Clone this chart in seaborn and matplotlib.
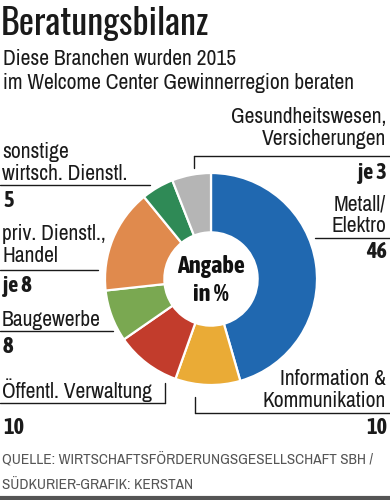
import matplotlib
matplotlib.use("Agg")
import matplotlib.pyplot as plt
import seaborn as sns

sns.set_theme(style="white")
BODY = ["Archivo Narrow", "Roboto Condensed", "Barlow Condensed", "DejaVu Sans"]
TITLE = ["Oswald", "Roboto Condensed", "Barlow Condensed", "DejaVu Sans"]
BOLD = ["Asap Condensed", "Barlow Condensed", "Roboto Condensed", "DejaVu Sans"]
plt.rcParams['font.family'] = BODY

# Data
categories = ["Metall/Elektro", "Information & Kommunikation", "Öffentl. Verwaltung",
              "Baugewerbe", "priv. Dienstl., Handel", "sonstige wirtsch. Dienstl.",
              "Gesundheitswesen, Versicherungen"]
values = [46, 10, 10, 8, 16, 5, 6]
value_labels = ["46", "10", "10", "8", "je 8", "5", "je 3"]
colors = ["#2068b0", "#eaab36", "#c23c2c", "#7aa851", "#e08a4d", "#2f8a56", "#b5b5b5"]

W, H = 390, 500
fig = plt.figure(figsize=(W / 100, H / 100), dpi=100)
fig.patch.set_facecolor("white")

# donut
cx, cy, R = 211, 279, 106
pax = fig.add_axes([(cx - R) / W, (H - cy - R) / H, 2 * R / W, 2 * R / H])
pax.pie(values, colors=colors, startangle=90, counterclock=False, radius=1,
        wedgeprops=dict(width=0.56, edgecolor="white", linewidth=1.6))
pax.set_xlim(-1, 1)
pax.set_ylim(-1, 1)
pax.set_aspect("equal")
pax.axis("off")
pax.text(0, 0.12, "Angabe", ha="center", va="center", fontsize=17.5, fontweight="bold",
         color="#111", family=BOLD)
pax.text(0, -0.15, "in %", ha="center", va="center", fontsize=17.5, fontweight="bold",
         color="#111", family=BOLD)

# overlay in pixel coordinates
ax = fig.add_axes([0, 0, 1, 1], facecolor="none")
ax.set_xlim(0, W)
ax.set_ylim(H, 0)
ax.axis("off")

tc = "#1a1a1a"
ax.text(1, 35, "Beratungsbilanz", fontsize=26, fontweight="bold", color=tc, va="baseline",
        ha="left", family=TITLE)
ax.text(3, 65, "Diese Branchen wurden 2015", fontsize=15.5, color=tc, va="baseline")
ax.text(3, 89, "im Welcome Center Gewinnerregion beraten", fontsize=15.5, color=tc, va="baseline")

lab = 15.5
num = 16
lw = 1.0


def number(x, y, s, ha):
    ax.text(x, y, s, fontsize=num, fontweight="bold", ha=ha, va="baseline", color=tc, family=BOLD)


# right labels
ax.text(386, 123, "Gesundheitswesen,", fontsize=lab, ha="right", va="baseline", color=tc)
ax.text(386, 145, "Versicherungen", fontsize=lab, ha="right", va="baseline", color=tc)
ax.plot([194, 390], [156, 156], color=tc, lw=lw)
ax.plot([194, 194], [156, 168], color=tc, lw=lw)
number(387, 179, value_labels[6], "right")

ax.text(386, 210, "Metall/", fontsize=lab, ha="right", va="baseline", color=tc)
ax.text(386, 232, "Elektro", fontsize=lab, ha="right", va="baseline", color=tc)
ax.plot([315, 390], [238, 238], color=tc, lw=lw)
number(387, 258, value_labels[0], "right")

ax.text(386, 385, "Information &", fontsize=lab, ha="right", va="baseline", color=tc)
ax.text(386, 407, "Kommunikation", fontsize=lab, ha="right", va="baseline", color=tc)
ax.plot([195, 390], [413, 413], color=tc, lw=lw)
ax.plot([195, 195], [397, 413], color=tc, lw=lw)
number(387, 434, value_labels[1], "right")

# left labels
ax.text(2, 158, "sonstige", fontsize=lab, ha="left", va="baseline", color=tc)
ax.text(2, 180, "wirtsch. Dienstl.", fontsize=lab, ha="left", va="baseline", color=tc)
ax.plot([0, 150], [185, 185], color=tc, lw=lw)
number(3, 207, value_labels[5], "left")

ax.text(2, 240, "priv. Dienstl.,", fontsize=lab, ha="left", va="baseline", color=tc)
ax.text(2, 262, "Handel", fontsize=lab, ha="left", va="baseline", color=tc)
ax.plot([0, 98], [270, 270], color=tc, lw=lw)
number(3, 292, value_labels[4], "left")

ax.text(2, 326, "Baugewerbe", fontsize=lab, ha="left", va="baseline", color=tc)
ax.plot([0, 113], [331, 331], color=tc, lw=lw)
number(3, 353, value_labels[3], "left")

ax.text(2, 398, "Öffentl. Verwaltung", fontsize=lab, ha="left", va="baseline", color=tc)
ax.plot([0, 165], [403, 403], color=tc, lw=lw)
ax.plot([165, 165], [383, 403], color=tc, lw=lw)
number(3, 434, value_labels[2], "left")

# footer
fc = "#555555"
ax.text(2, 465, "QUELLE: WIRTSCHAFTSFÖRDERUNGSGESELLSCHAFT SBH /", fontsize=11, color=fc, va="baseline")
ax.text(2, 489, "SÜDKURIER-GRAFIK: KERSTAN", fontsize=11, color=fc, va="baseline")
ax.plot([0, 390], [498, 498], color="#555555", lw=3)

fig.savefig("out.png", dpi=100, facecolor="white")
